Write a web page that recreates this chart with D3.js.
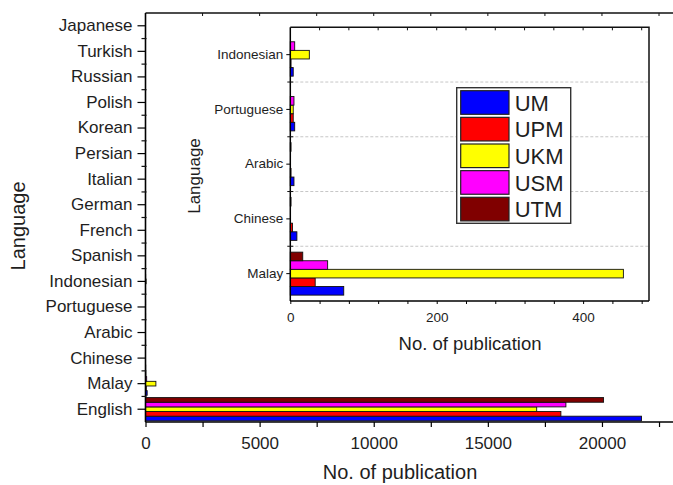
<!DOCTYPE html>
<html>
<head>
<meta charset="utf-8">
<script src="https://cdn.jsdelivr.net/npm/d3@7"></script>
<style>
  html, body { margin: 0; padding: 0; background: #fff; }
  svg { display: block; font-family: "Liberation Sans", Arial, sans-serif; }
  text { fill: #1e1e1e; }
</style>
</head>
<body>
<svg id="chart" width="673" height="485"></svg>
<script>
// Publications per language for five Malaysian universities
const languages = ["English", "Malay", "Chinese", "Arabic", "Portuguese", "Indonesian",
  "Spanish", "French", "German", "Italian", "Persian", "Korean", "Polish", "Russian",
  "Turkish", "Japanese"];
const universities = ["UM", "UPM", "UKM", "USM", "UTM"];
const colors = ["#0000ff", "#ff0000", "#ffff00", "#ff00ff", "#800000"];

const UM  = [21730, 73, 9, 5, 6, 4, 2, 2, 1, 1, 1, 1, 1, 1, 1, 1];
const UPM = [18200, 34, 3, 1, 4, 1, 1, 1, 1, 0, 1, 0, 1, 0, 0, 0];
const UKM = [17140, 455, 0, 0, 4, 26, 1, 1, 1, 1, 1, 0, 0, 1, 1, 0];
const USM = [18420, 51, 0, 0, 5, 6, 1, 1, 1, 1, 1, 1, 0, 0, 1, 1];
const UTM = [20070, 17, 1, 1, 0, 0, 1, 1, 1, 0, 1, 0, 1, 1, 0, 0];

// Zoomed panel shows the five smaller languages
const insetLanguages = ["Malay", "Chinese", "Arabic", "Portuguese", "Indonesian"];

const mainTicks = d3.range(0, 22501, 2500);
const insetTicks = d3.range(0, 481, 40);

const seriesValues = [UM, UPM, UKM, USM, UTM];
const rows = languages.map((lang, i) => ({
  lang,
  values: universities.map((u, k) => ({ uni: u, color: colors[k], value: seriesValues[k][i] }))
}));

const svg = d3.select("#chart");

// ---------- main chart ----------
const x = d3.scaleLinear().domain([0, 23200]).range([145.5, 675]);
const y = d3.scaleBand().domain(languages).range([422, 13]);
const mainGroup = d3.scaleBand().domain(universities.slice().reverse())
  .range([0, y.bandwidth() * 0.91]);
const mainOffset = (y.bandwidth() - mainGroup.range()[1]) / 2;

const main = svg.append("g");

main.append("g").selectAll("g").data(rows).join("g")
  .attr("transform", d => `translate(0,${y(d.lang) + mainOffset})`)
  .selectAll("rect").data(d => d.values.filter(v => v.value > 0)).join("rect")
  .attr("x", x(0))
  .attr("y", d => mainGroup(d.uni))
  .attr("width", d => x(d.value) - x(0))
  .attr("height", mainGroup.bandwidth())
  .attr("fill", d => d.color)
  .attr("stroke", "#111")
  .attr("stroke-width", 0.9);

// bottom axis
const xAxis = main.append("g").attr("transform", `translate(0,${y.range()[0]})`)
  .call(d3.axisBottom(x).tickValues(mainTicks).tickSize(5).tickPadding(10)
    .tickFormat(d => d % 5000 === 0 ? d : ""));
xAxis.select(".domain").attr("stroke-width", 1.6).attr("d", `M${x(0)},0H675`);
xAxis.selectAll(".tick line").attr("stroke-width", 1.2);
xAxis.selectAll("text").attr("font-size", 17);

// top frame with inward ticks
main.append("line").attr("x1", x(0)).attr("x2", 675).attr("y1", 13).attr("y2", 13)
  .attr("stroke", "#111").attr("stroke-width", 1.6);
main.append("g").selectAll("line").data(mainTicks.slice(1)).join("line")
  .attr("x1", d => x(d)).attr("x2", d => x(d)).attr("y1", 13).attr("y2", 16)
  .attr("stroke", "#111").attr("stroke-width", 1);

// left axis
const yAxis = main.append("g").attr("transform", `translate(${x(0)},0)`)
  .call(d3.axisLeft(y).tickSize(8).tickPadding(5));
yAxis.select(".domain").attr("stroke-width", 1.6).attr("d", `M0,${y.range()[0]}V13`);
yAxis.selectAll(".tick line").attr("stroke-width", 1.2);
yAxis.selectAll("text").attr("font-size", 17);
main.append("g").selectAll("line").data(languages.slice(1)).join("line")
  .attr("x1", x(0) - 4).attr("x2", x(0) + 1)
  .attr("y1", d => y(d) + y.bandwidth()).attr("y2", d => y(d) + y.bandwidth())
  .attr("stroke", "#111").attr("stroke-width", 1.2);

main.append("text")
  .attr("x", 400).attr("y", 479)
  .attr("text-anchor", "middle").attr("font-size", 20)
  .text("No. of publication");
main.append("text")
  .attr("transform", "translate(25,226) rotate(-90)")
  .attr("text-anchor", "middle").attr("font-size", 20)
  .text("Language");

// ---------- inset ----------
const xi = d3.scaleLinear().domain([0, 490]).range([290.3, 649]);
const yi = d3.scaleBand().domain(insetLanguages).range([301, 27.3]);
const insetGroup = d3.scaleBand().domain(universities.slice().reverse())
  .range([0, yi.bandwidth() * 0.785]);
const insetOffset = (yi.bandwidth() - insetGroup.range()[1]) / 2;
const insetRows = rows.filter(r => insetLanguages.includes(r.lang));

const inset = svg.append("g");
inset.append("rect")
  .attr("x", xi.range()[0]).attr("y", yi.range()[1])
  .attr("width", xi.range()[1] - xi.range()[0])
  .attr("height", yi.range()[0] - yi.range()[1])
  .attr("fill", "#fff");

// dashed separators between languages
inset.append("g").selectAll("line").data(insetLanguages.slice(1)).join("line")
  .attr("x1", xi.range()[0]).attr("x2", xi.range()[1])
  .attr("y1", d => yi(d) + yi.bandwidth()).attr("y2", d => yi(d) + yi.bandwidth())
  .attr("stroke", "#b8b8b8").attr("stroke-width", 0.8).attr("stroke-dasharray", "3,2");

inset.append("g").selectAll("g").data(insetRows).join("g")
  .attr("transform", d => `translate(0,${yi(d.lang) + insetOffset})`)
  .selectAll("rect").data(d => d.values.filter(v => v.value > 0)).join("rect")
  .attr("x", xi(0))
  .attr("y", d => insetGroup(d.uni))
  .attr("width", d => xi(d.value) - xi(0))
  .attr("height", insetGroup.bandwidth())
  .attr("fill", d => d.color)
  .attr("stroke", "#111")
  .attr("stroke-width", 0.9);

const xiAxis = inset.append("g").attr("transform", `translate(0,${yi.range()[0]})`)
  .call(d3.axisBottom(xi).tickValues(insetTicks).tickSize(3).tickPadding(8)
    .tickFormat(d => d % 200 === 0 ? d : ""));
xiAxis.select(".domain").attr("stroke-width", 1.5).attr("d", `M${xi.range()[0]},0H${xi.range()[1]}`);
xiAxis.selectAll("text").attr("font-size", 13.5);

inset.append("g").selectAll("line").data(insetTicks.slice(1)).join("line")
  .attr("x1", d => xi(d)).attr("x2", d => xi(d))
  .attr("y1", yi.range()[1]).attr("y2", yi.range()[1] + 3)
  .attr("stroke", "#111").attr("stroke-width", 1);

const yiAxis = inset.append("g").attr("transform", `translate(${xi.range()[0]},0)`)
  .call(d3.axisLeft(yi).tickSize(4).tickPadding(3));
yiAxis.select(".domain").attr("stroke-width", 1.5).attr("d", `M0,${yi.range()[0]}V${yi.range()[1]}`);
yiAxis.selectAll("text").attr("font-size", 13.5);
inset.append("g").selectAll("line").data(insetLanguages.slice(1)).join("line")
  .attr("x1", xi.range()[0] - 3).attr("x2", xi.range()[0] + 3)
  .attr("y1", d => yi(d) + yi.bandwidth()).attr("y2", d => yi(d) + yi.bandwidth())
  .attr("stroke", "#111").attr("stroke-width", 1);

// top and right edges of the inset frame
inset.append("path")
  .attr("d", `M${xi.range()[0]},${yi.range()[1]}H${xi.range()[1]}V${yi.range()[0]}`)
  .attr("fill", "none").attr("stroke", "#111").attr("stroke-width", 1.5);

inset.append("text")
  .attr("x", 470).attr("y", 350)
  .attr("text-anchor", "middle").attr("font-size", 18.5)
  .text("No. of publication");
inset.append("text")
  .attr("transform", "translate(200,176) rotate(-90)")
  .attr("text-anchor", "middle").attr("font-size", 17)
  .text("Language");

// ---------- legend ----------
const legend = svg.append("g").attr("transform", "translate(456.7,87.7)");
legend.append("rect")
  .attr("width", 114).attr("height", 135.6)
  .attr("fill", "#fff").attr("stroke", "#333").attr("stroke-width", 1.4);
const item = legend.selectAll("g").data(universities).join("g")
  .attr("transform", (d, i) => `translate(4,${3 + i * 26.65})`);
item.append("rect")
  .attr("width", 48.3).attr("height", 23.6)
  .attr("fill", (d, i) => colors[i])
  .attr("stroke", "#222").attr("stroke-width", 1.2);
item.append("text")
  .attr("x", 54).attr("y", 12).attr("dy", "0.36em")
  .attr("font-size", 22)
  .text(d => d);
</script>
</body>
</html>
